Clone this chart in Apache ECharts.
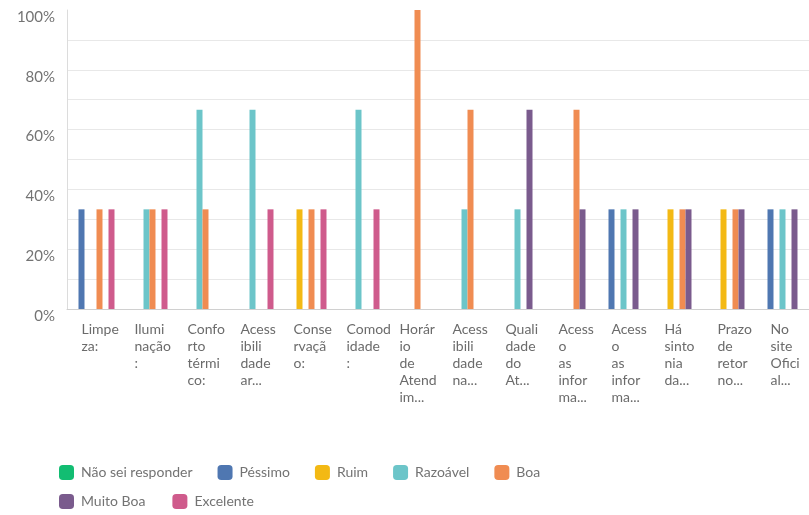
<!DOCTYPE html>
<html>
<head>
<meta charset="utf-8">
<script src="https://cdn.jsdelivr.net/npm/echarts@6/dist/echarts.min.js"></script>
<style>
  html, body { margin: 0; padding: 0; background: #fff; }
  #chart { width: 809px; height: 515px; }
</style>
</head>
<body>
<div id="chart"></div>
<script>
// categories (labels as they were cut in the picture)
var categories = [
  'Limpe\nza:', 'Ilumi\nnação\n:', 'Confo\nrto\ntérmi\nco:', 'Acess\nibili\ndade\nar...',
  'Conse\nrvaçã\no:', 'Comod\nidade\n:', 'Horár\nio\nde\nAtend\nim...', 'Acess\nibili\ndade\nna...',
  'Quali\ndade\ndo\nAt...', 'Acess\no\nas\ninfor\nma...', 'Acess\no\nas\ninfor\nma...',
  'Há\nsinto\nnia\nda...', 'Prazo\nde\nretor\nno...', 'No\nsite\nOfici\nal...'
];
var seriesNames = ['Não sei responder', 'Péssimo', 'Ruim', 'Razoável', 'Boa', 'Muito Boa', 'Excelente'];
var naoSei    = [0, 0, 0, 0, 0, 0, 0, 0, 0, 0, 0, 0, 0, 0];
var pessimo   = [33.33, 0, 0, 0, 0, 0, 0, 0, 0, 0, 33.33, 0, 0, 33.33];
var ruim      = [0, 0, 0, 0, 33.33, 0, 0, 0, 0, 0, 0, 33.33, 33.33, 0];
var razoavel  = [0, 33.33, 66.67, 66.67, 0, 66.67, 0, 33.33, 33.33, 0, 33.33, 0, 0, 33.33];
var boa       = [33.33, 33.33, 33.33, 0, 33.33, 0, 100, 66.67, 0, 66.67, 0, 33.33, 33.33, 0];
var muitoBoa  = [0, 0, 0, 0, 0, 0, 0, 0, 66.67, 33.33, 33.33, 33.33, 33.33, 33.33];
var excelente = [33.33, 33.33, 0, 33.33, 33.33, 33.33, 0, 0, 0, 0, 0, 0, 0, 0];

var colors = ['#12bd72', '#4f77b1', '#f3b914', '#6cc5c9', '#f08c52', '#7a5b8d', '#cf5b8c'];
var allData = [naoSei, pessimo, ruim, razoavel, boa, muitoBoa, excelente];

var font = 'Lato, "Open Sans", sans-serif';

var series = [];
for (var i = 0; i < seriesNames.length; i++) {
  series.push({
    name: seriesNames[i],
    type: 'bar',
    barWidth: 6,
    barGap: '0%',
    itemStyle: { color: colors[i] },
    data: allData[i]
  });
}

// top gridline not drawn in the picture
var splitColors = [];
for (var k = 0; k < 10; k++) splitColors.push('#e8e8e8');
splitColors.push('rgba(0,0,0,0)');

var legendCommon = {
  left: 59,
  padding: 0,
  itemWidth: 15,
  itemHeight: 15,
  icon: 'roundRect',
  textStyle: { fontFamily: font, fontSize: 14, color: '#737373', padding: [0, 0, 0, 2] }
};

var option = {
  animation: false,
  color: colors,
  grid: [
    { left: 67, right: 0, top: 10, bottom: 206, outerBoundsMode: 'none' },
    // only used to place the category labels a bit to the left
    { left: 55, right: 12, top: 10, bottom: 206, outerBoundsMode: 'none' }
  ],
  legend: [
    Object.assign({}, legendCommon, { top: 465, itemGap: 25, data: seriesNames.slice(0, 5) }),
    Object.assign({}, legendCommon, { top: 494, itemGap: 27, data: seriesNames.slice(5) })
  ],
  xAxis: [
    {
      type: 'category',
      gridIndex: 0,
      data: categories,
      axisLine: { show: true, lineStyle: { color: '#d0d0d0' } },
      axisTick: { show: false },
      axisLabel: { show: false }
    },
    {
      type: 'category',
      gridIndex: 1,
      data: categories,
      axisLine: { show: false },
      axisTick: { show: false },
      splitLine: { show: false },
      axisLabel: {
        interval: 0,
        align: 'left',
        margin: 12,
        fontFamily: font,
        fontSize: 14,
        lineHeight: 17,
        color: '#6b6b6b'
      }
    }
  ],
  yAxis: [
    {
      type: 'value',
      gridIndex: 0,
      min: 0,
      max: 100,
      interval: 10,
      axisLine: { show: true, lineStyle: { color: '#dcdcdc' } },
      axisTick: { show: false },
      splitLine: { show: true, lineStyle: { color: splitColors } },
      axisLabel: {
        margin: 12,
        fontFamily: font,
        fontSize: 15,
        color: '#737373',
        verticalAlign: 'top',
        lineHeight: 14,
        formatter: function (v) {
          return (v % 20 === 0) ? v + '%' : '';
        }
      }
    },
    { type: 'value', gridIndex: 1, show: false, min: 0, max: 100 }
  ],
  series: series
};

var myChart = echarts.init(document.getElementById('chart'));
myChart.setOption(option);
</script>
</body>
</html>
